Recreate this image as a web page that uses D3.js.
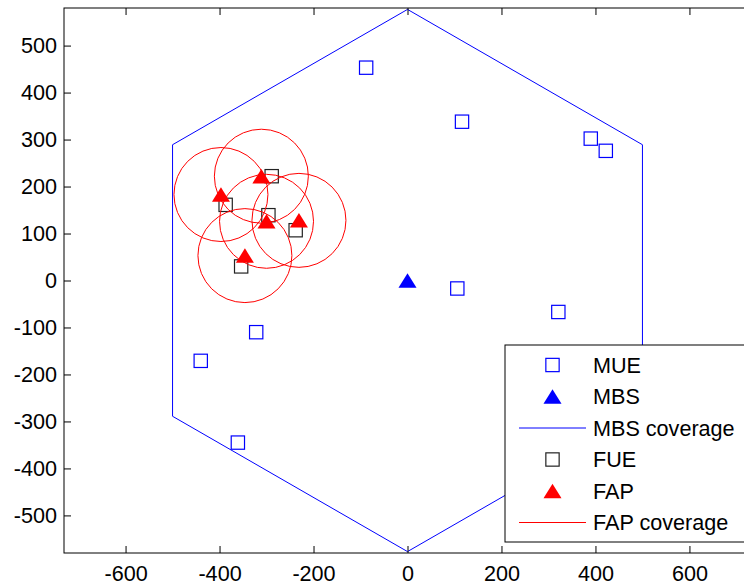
<!DOCTYPE html>
<html>
<head>
<meta charset="utf-8">
<script src="https://cdn.jsdelivr.net/npm/d3@7"></script>
<style>
  html, body { margin: 0; padding: 0; background: #fff; }
  svg { display: block; font-family: "Liberation Sans", Arial, Helvetica, sans-serif; }
</style>
</head>
<body>
<svg id="chart" width="744" height="585"></svg>
<script>
// Macro cell layout: macro users, macro base station, femto access points and femto users
const mueX = [-88, 116, 390, 422, 106, 321, -322, -440, -361];
const mueY = [453, 338, 302, 276, -17, -67, -110, -171, -345];
const mbsX = [0];
const mbsY = [0];
const hexX = [0, 500, 500, 0, -500, -500, 0];
const hexY = [577, 289, -289, -577, -289, 289, 577];
const fueX = [-289, -387, -296, -238, -354];
const fueY = [222, 161, 139, 107, 30];
const fapX = [-311, -397, -300, -231, -346];
const fapY = [222, 183, 126, 128, 53];
const fapRadius = 100;
const xTicks = [-600, -400, -200, 0, 200, 400, 600];
const yTicks = [-500, -400, -300, -200, -100, 0, 100, 200, 300, 400, 500];
const legendLabels = ["MUE", "MBS", "MBS coverage", "FUE", "FAP", "FAP coverage"];

const svg = d3.select("#chart");
const boxL = 64, boxR = 751, boxT = 8, boxB = 553;

const x = d3.scaleLinear().domain([-731, 731]).range([boxL, boxR]);
const y = d3.scaleLinear().domain([-580, 580]).range([boxB, boxT]);

const fontSize = 21.6;
const plainFmt = d => String(d);   // ASCII hyphen for negatives

// clip plotting area to the axes box
svg.append("defs").append("clipPath").attr("id", "plotArea")
  .append("rect").attr("x", boxL).attr("y", boxT)
  .attr("width", boxR - boxL).attr("height", boxB - boxT);

const plot = svg.append("g").attr("clip-path", "url(#plotArea)");

const sq = 13.3;        // square marker side
const triW = 18, triH = 14.5;
const triPath = `M0,${-triH / 2}L${triW / 2},${triH / 2}L${-triW / 2},${triH / 2}Z`;

// MBS coverage hexagon
const hexLine = d3.line().x(d => x(d[0])).y(d => y(d[1]));
plot.append("path")
  .attr("d", hexLine(d3.zip(hexX, hexY)))
  .attr("fill", "none").attr("stroke", "#0000ff").attr("stroke-width", 1);

// MUE
plot.selectAll(".mue").data(d3.zip(mueX, mueY)).join("rect")
  .attr("x", d => x(d[0]) - sq / 2).attr("y", d => y(d[1]) - sq / 2)
  .attr("width", sq).attr("height", sq)
  .attr("fill", "none").attr("stroke", "#0000ff").attr("stroke-width", 1.2);

// MBS
plot.selectAll(".mbs").data(d3.zip(mbsX, mbsY)).join("path")
  .attr("transform", d => `translate(${x(d[0])},${y(d[1])})`)
  .attr("d", triPath).attr("fill", "#0000ff");

// FUE
plot.selectAll(".fue").data(d3.zip(fueX, fueY)).join("rect")
  .attr("x", d => x(d[0]) - sq / 2).attr("y", d => y(d[1]) - sq / 2)
  .attr("width", sq).attr("height", sq)
  .attr("fill", "none").attr("stroke", "#222").attr("stroke-width", 1.2);

// FAP
plot.selectAll(".fap").data(d3.zip(fapX, fapY)).join("path")
  .attr("transform", d => `translate(${x(d[0])},${y(d[1])})`)
  .attr("d", triPath).attr("fill", "#ff0000");

// FAP coverage circles
plot.selectAll(".cov").data(d3.zip(fapX, fapY)).join("ellipse")
  .attr("cx", d => x(d[0])).attr("cy", d => y(d[1]))
  .attr("rx", x(fapRadius) - x(0)).attr("ry", y(0) - y(fapRadius))
  .attr("fill", "none").attr("stroke", "#ff0000").attr("stroke-width", 1);

// axes box
svg.append("rect").attr("x", boxL).attr("y", boxT)
  .attr("width", boxR - boxL).attr("height", boxB - boxT)
  .attr("fill", "none").attr("stroke", "#000").attr("stroke-width", 1);

const tickLen = 7;
// bottom and top ticks (inward)
const xAxisBottom = d3.axisBottom(x).tickValues(xTicks).tickFormat(plainFmt)
  .tickSizeInner(-tickLen).tickSizeOuter(0).tickPadding(13);
const gx = svg.append("g").attr("transform", `translate(0,${boxB})`).call(xAxisBottom);
gx.select(".domain").remove();
gx.selectAll("text").attr("font-size", fontSize).attr("fill", "#000");
gx.selectAll("line").attr("stroke", "#000");
gx.attr("font-family", null);

const xAxisTop = d3.axisTop(x).tickValues(xTicks).tickSizeInner(-tickLen).tickSizeOuter(0).tickFormat("");
const gxt = svg.append("g").attr("transform", `translate(0,${boxT})`).call(xAxisTop);
gxt.select(".domain").remove();
gxt.selectAll("line").attr("stroke", "#000");

const yAxisLeft = d3.axisLeft(y).tickValues(yTicks).tickFormat(plainFmt)
  .tickSizeInner(-tickLen).tickSizeOuter(0).tickPadding(7);
const gy = svg.append("g").attr("transform", `translate(${boxL},0)`).call(yAxisLeft);
gy.select(".domain").remove();
gy.selectAll("text").attr("font-size", fontSize).attr("fill", "#000");
gy.selectAll("line").attr("stroke", "#000");
gy.attr("font-family", null);

const yAxisRight = d3.axisRight(y).tickValues(yTicks).tickSizeInner(-tickLen).tickSizeOuter(0).tickFormat("");
const gyr = svg.append("g").attr("transform", `translate(${boxR},0)`).call(yAxisRight);
gyr.select(".domain").remove();
gyr.selectAll("line").attr("stroke", "#000");

// legend
const lg = svg.append("g");
const lgX = 505, lgY = 345, lgW = 260, lgH = 197;
lg.append("rect").attr("x", lgX).attr("y", lgY).attr("width", lgW).attr("height", lgH)
  .attr("fill", "#fff").attr("stroke", "#000").attr("stroke-width", 1);

const rowY = d3.scalePoint().domain(legendLabels).range([365, 522.5]);
const markX = 552.5;

legendLabels.forEach((label, i) => {
  const cy = rowY(label);
  const row = lg.append("g");
  if (i === 0 || i === 3) {
    row.append("rect").attr("x", markX - sq / 2).attr("y", cy - sq / 2)
      .attr("width", sq).attr("height", sq).attr("fill", "none")
      .attr("stroke", i === 0 ? "#0000ff" : "#222").attr("stroke-width", 1.2);
  } else if (i === 1 || i === 4) {
    row.append("path").attr("transform", `translate(${markX},${cy})`)
      .attr("d", triPath).attr("fill", i === 1 ? "#0000ff" : "#ff0000");
  } else {
    row.append("line").attr("x1", 519).attr("x2", 586).attr("y1", cy).attr("y2", cy)
      .attr("stroke", i === 2 ? "#0000ff" : "#ff0000").attr("stroke-width", 1);
  }
  row.append("text").attr("x", 593).attr("y", cy).attr("dy", "0.36em")
    .attr("font-size", fontSize).attr("fill", "#000").text(label);
});
</script>
</body>
</html>
